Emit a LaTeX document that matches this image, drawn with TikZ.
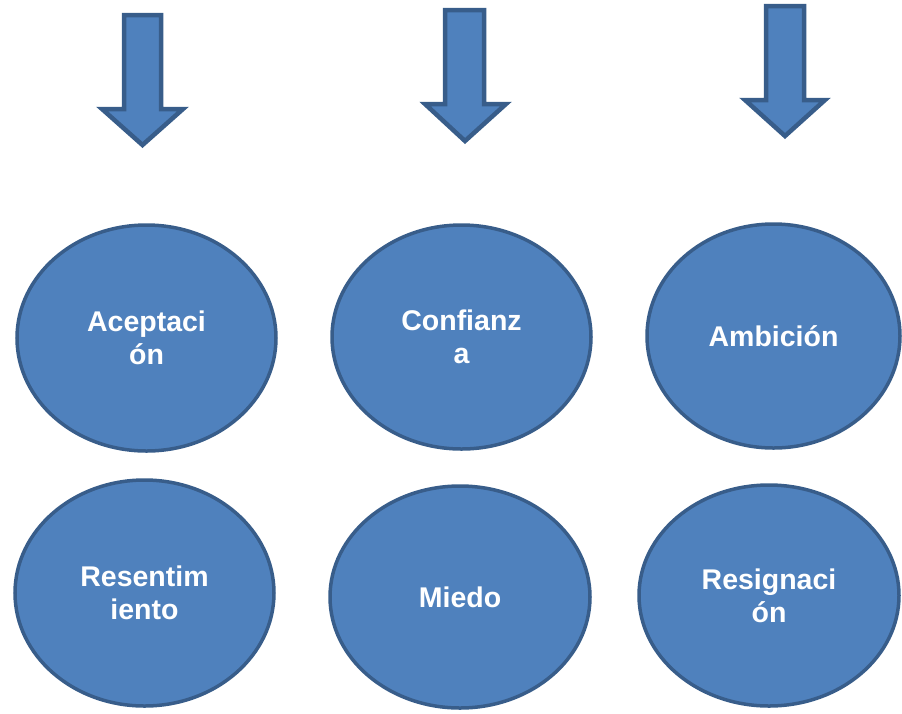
\documentclass[tikz,border=0pt]{standalone}
\usepackage{fontspec}
\setmainfont{Liberation Sans}
\usetikzlibrary{shapes.geometric}
\definecolor{fillblue}{HTML}{4F81BD}
\definecolor{edgeblue}{HTML}{385D8A}
\tikzset{
  bubble/.style={ellipse, fill=fillblue, draw=edgeblue, line width=3.5pt, inner sep=0pt,
    text=white, align=center, font=\fontsize{28.5}{33}\selectfont\bfseries},
  blockarrow/.style={fill=fillblue, draw=edgeblue, line width=4.5pt, line join=miter}
}
\begin{document}
\begin{tikzpicture}[x=1pt,y=-1pt]
\useasboundingbox (0,0) rectangle (902,713);
% block arrows
\draw[blockarrow] (124,15) -- (161,15) -- (161,109) -- (183,109) -- (142.5,145) -- (102,109) -- (124,109) -- cycle;
\draw[blockarrow] (445,10) -- (484,10) -- (484,104) -- (506,104) -- (465,141) -- (425,104) -- (445,104) -- cycle;
\draw[blockarrow] (766,6) -- (804,6) -- (804,100) -- (825,100) -- (785,136) -- (745,100) -- (766,100) -- cycle;
% ellipses
\node[bubble, minimum width=259pt, minimum height=226pt] (acep) at (146.5,338) {Aceptaci\\ón};
\node[bubble, minimum width=259pt, minimum height=224pt] (conf) at (461.5,337) {Confianz\\a};
\node[bubble, minimum width=253pt, minimum height=224pt] (ambi) at (773.5,336) {Ambición};
\node[bubble, minimum width=259pt, minimum height=226pt] (rese) at (144.5,593) {Resentim\\iento};
\node[bubble, minimum width=260pt, minimum height=222pt] (mied) at (460,597) {Miedo};
\node[bubble, minimum width=260pt, minimum height=221pt] (resi) at (769,595.5) {Resignaci\\ón};
\end{tikzpicture}
\end{document}
